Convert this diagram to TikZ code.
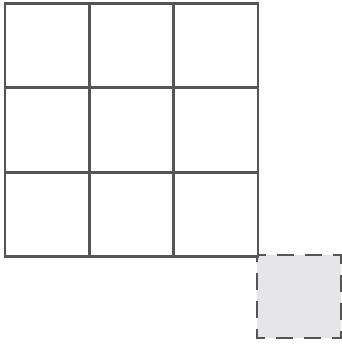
\documentclass[tikz,border=0pt]{standalone}
\definecolor{gridline}{HTML}{555555}
\definecolor{tilefill}{HTML}{E6E6E8}
\tikzset{
  gridstyle/.style={draw=gridline, line width=2.8pt, line cap=rect},
  tilestyle/.style={draw=gridline, fill=tilefill, line width=2.8pt, dash pattern=on 17pt off 11pt, dash phase=8.5pt}
}
\begin{document}
\begin{tikzpicture}[x=1pt,y=-1pt]
\useasboundingbox (0,0) rectangle (342,346);
\draw[tilestyle] (257,255) -- (341,255) -- (341,338) -- (257,338) -- cycle;
\foreach \i in {0,1,2,3} {
  \draw[gridstyle] ({5+84.33*\i},3.5) -- ({5+84.33*\i},256.5);
  \draw[gridstyle] (5,{3.5+84.33*\i}) -- (258,{3.5+84.33*\i});
}
\end{tikzpicture}
\end{document}
